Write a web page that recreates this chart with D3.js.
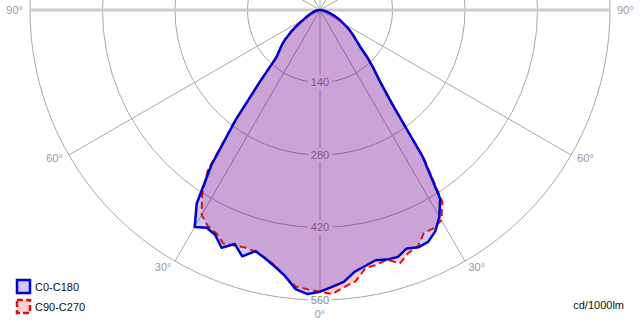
<!DOCTYPE html>
<html lang="en">
<head>
<meta charset="UTF-8">
<title>Polar intensity</title>
<script src="https://cdn.jsdelivr.net/npm/d3@7"></script>
<style>
  body { margin: 0; background: #fff; }
  text { font-family: "Liberation Sans", Arial, sans-serif; font-size: 11px; }
</style>
</head>
<body>
<script>
// gamma angles (deg from straight down), one value per angle
var angles = [0, 2.5, 5, 7.5, 10, 12.5, 15, 17.5, 20, 22.5, 25, 27.5, 30, 32.5, 35, 37.5, 40, 42.5, 45,
  47.5, 50, 52.5, 55, 57.5, 60, 62.5, 65, 67.5, 70, 72.5, 75, 77.5, 80, 82.5, 85, 87.5, 90];

// C0-C180 (blue): right half C0, left half C180
var c0 = [544, 535, 527, 510, 502, 495, 499, 500, 490, 496, 494, 482, 461, 432, 345, 229, 180, 153, 129,
  105, 92, 81, 72, 63, 52, 46, 38, 31, 24, 19, 15, 11, 8, 6, 4, 2, 0];
var c180 = [544, 549, 541, 518, 503, 491, 482, 499, 481, 497, 479, 474, 484, 443, 366, 268, 180, 126, 111,
  100, 87, 72, 59, 46, 36, 30, 25, 21, 17, 14, 11, 9, 7, 5, 3, 1, 0];

// C90-C270 (red dashed): right half C90, left half C270
var c90 = [544, 549, 537, 528, 506, 504, 499, 513, 499, 494, 475, 475, 469, 440, 350, 232, 180, 153, 129,
  106, 93, 82, 72, 63, 52, 46, 38, 31, 24, 19, 15, 11, 8, 6, 4, 2, 0];
var c270 = [544, 540, 536, 519, 501, 490, 483, 481, 484, 488, 475, 470, 457, 424, 378, 268, 180, 128, 112,
  100, 87, 73, 60, 47, 37, 30, 25, 21, 17, 14, 11, 9, 7, 5, 3, 1, 0];

var ringValues = [140, 280, 420, 560];
var angleTicks = [90, 60, 30, 0, 30, 60, 90]; // left to right
var legendNames = ["C0-C180", "C90-C270"];
var unitLabel = "cd/1000lm";

var width = 640, height = 330;
var cx = 320, cy = 10, R = 290;

var svg = d3.select("body").append("svg")
  .attr("width", width)
  .attr("height", height);

var r = d3.scaleLinear().domain([0, 560]).range([0, R]);
var rad = Math.PI / 180;

var g = svg.append("g").attr("transform", "translate(" + cx + "," + cy + ")");

// grid rings
g.selectAll("circle.ring")
  .data(ringValues)
  .enter().append("circle")
  .attr("class", "ring")
  .attr("r", function (d) { return r(d); })
  .attr("fill", "none")
  .attr("stroke", "#a8a8a8")
  .attr("stroke-width", 1);

// spokes every 30 deg (angle measured from straight down)
g.selectAll("line.spoke")
  .data(d3.range(0, 360, 30))
  .enter().append("line")
  .attr("x1", 0).attr("y1", 0)
  .attr("x2", function (d) { return r(560) * Math.sin(d * rad); })
  .attr("y2", function (d) { return r(560) * Math.cos(d * rad); })
  .attr("stroke", "#a8a8a8")
  .attr("stroke-width", 1);

// horizontal 90 deg line
g.append("line")
  .attr("x1", -r(560)).attr("x2", r(560))
  .attr("y1", 0).attr("y2", 0)
  .attr("stroke", "#cccccc")
  .attr("stroke-width", 3);

// ring labels with a white gap (fills go over them later)
var rl = g.selectAll("g.rl")
  .data(ringValues)
  .enter().append("g")
  .attr("transform", function (d) { return "translate(0," + r(d) + ")"; });
rl.append("rect")
  .attr("x", -12).attr("y", -7)
  .attr("width", 24).attr("height", 14)
  .attr("fill", "#fff");
rl.append("text")
  .attr("text-anchor", "middle")
  .attr("dy", "0.35em")
  .attr("fill", "#888")
  .text(function (d) { return d; });

// angle labels
g.selectAll("text.ang")
  .data(angleTicks)
  .enter().append("text")
  .attr("class", "ang")
  .attr("fill", "#999")
  .attr("dy", "0.35em")
  .attr("text-anchor", function (d, i) {
    if (d === 0) return "middle";
    return i < 3 ? "end" : "start";
  })
  .attr("x", function (d, i) {
    var s = i < 3 ? -1 : 1;
    return s * (r(560) + 7) * Math.sin(d * rad);
  })
  .attr("y", function (d) {
    if (d === 0) return r(560) + 14;
    return (r(560) + 7) * Math.cos(d * rad);
  })
  .text(function (d) { return d + "\u00b0"; });

// build closed curve: left half from 90 down to 0, then right half 0 to 90
function curve(left, right) {
  var pts = [];
  for (var i = angles.length - 1; i >= 0; i--) pts.push([Math.PI + angles[i] * rad, left[i]]);
  for (var j = 1; j < angles.length; j++) pts.push([Math.PI - angles[j] * rad, right[j]]);
  return pts;
}

var line = d3.lineRadial()
  .angle(function (d) { return d[0]; })
  .radius(function (d) { return r(d[1]); })
  .curve(d3.curveLinearClosed);

var redPts = curve(c270, c90);
var bluePts = curve(c180, c0);

g.append("path").attr("d", line(redPts))
  .attr("fill", "rgba(255,0,0,0.2)").attr("stroke", "none");
g.append("path").attr("d", line(bluePts))
  .attr("fill", "rgba(0,0,255,0.2)").attr("stroke", "none");
g.append("path").attr("d", line(redPts))
  .attr("fill", "none").attr("stroke", "#dd1111")
  .attr("stroke-width", 2).attr("stroke-dasharray", "7,4")
  .attr("stroke-linejoin", "round");
g.append("path").attr("d", line(bluePts))
  .attr("fill", "none").attr("stroke", "#0000cc")
  .attr("stroke-width", 2.5).attr("stroke-linejoin", "round");

// legend
var legend = svg.append("g").attr("transform", "translate(17,280)");
var items = legend.selectAll("g")
  .data(legendNames)
  .enter().append("g")
  .attr("transform", function (d, i) { return "translate(0," + i * 20 + ")"; });
items.append("rect")
  .attr("width", 13).attr("height", 13)
  .attr("fill", function (d, i) { return i ? "#ffd0d0" : "#c8c8ff"; })
  .attr("stroke", function (d, i) { return i ? "#dd1111" : "#0000cc"; })
  .attr("stroke-width", 2.5)
  .attr("stroke-dasharray", function (d, i) { return i ? "6,3" : null; });
items.append("text")
  .attr("x", 18).attr("y", 7).attr("dy", "0.35em")
  .attr("fill", "#111")
  .text(function (d) { return d; });

svg.append("text")
  .attr("x", 624).attr("y", 305).attr("dy", "0.35em")
  .attr("text-anchor", "end")
  .attr("fill", "#111")
  .text(unitLabel);
</script>
</body>
</html>
